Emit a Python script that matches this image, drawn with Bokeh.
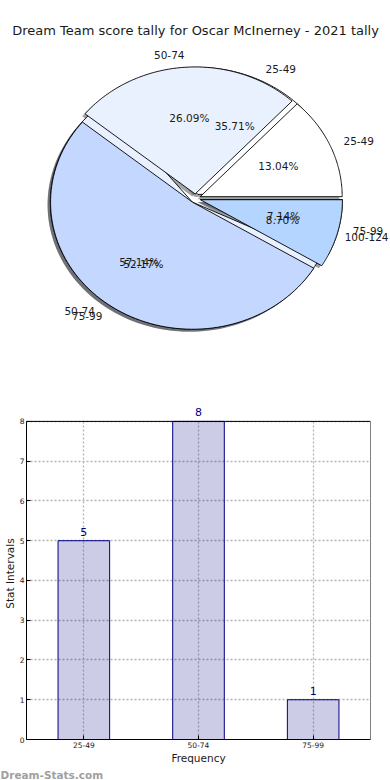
import numpy as np
from bokeh.plotting import figure
from bokeh.models import ColumnDataSource, Range1d, FactorRange, Title
from bokeh.layouts import column
from bokeh.embed import file_html
from bokeh.resources import INLINE
from bokeh.core.properties import value

# ---------------- data ----------------
title_text = "Dream Team score tally for Oscar McInerney - 2021 tally"
pie1_labels = ["25-49", "50-74", "75-99"]
pie1_counts = [5, 8, 1]
pie2_labels = ["25-49", "50-74", "75-99", "100-124"]
pie2_counts = [3, 6, 12, 2]
slice_colors = ["#ffffff", "#eaf1fe", "#c4d8ff", "#b3d5ff"]

bar_categories = ["25-49", "50-74", "75-99"]
bar_values = [5, 8, 1]
y_ticks = [0, 1, 2, 3, 4, 5, 6, 7, 8]
y_max = 8

FONT = "DejaVu Sans"
LABEL_SIZE = 10.5

# ---------------- pie figure ----------------
W1, H1 = 390, 340
PX = 142.0                       # pixels per radius unit (both axes)
ASPECT = 127.0 / 142.0           # pie is drawn slightly squashed vertically
CX, CY = 195.0, 198.0            # canvas position of pie centre
p1 = figure(width=W1, height=H1, output_backend="svg", toolbar_location=None,
            x_range=Range1d(-CX / PX, (W1 - CX) / PX),
            y_range=Range1d(-(H1 - CY) / PX, CY / PX),
            x_axis_type=None, y_axis_type=None, min_border=0)
p1.frame_align = False
p1.grid.visible = False
p1.outline_line_color = None

EXPLODE = 0.036
SHADOW = 0.02


def shade(hexcol):
    h = hexcol.lstrip("#")
    r, g, b = (int(h[i:i + 2], 16) for i in (0, 2, 4))
    return "#%02x%02x%02x" % (int(r * 0.3), int(g * 0.3), int(b * 0.3))


def text_width(s, size):
    em = {"-": 0.361, "%": 0.950, ".": 0.318}
    return sum(em.get(ch, 0.636) for ch in s) * size


def pie_geometry(counts, labels):
    total = float(sum(counts))
    cum = np.concatenate([[0.0], np.cumsum(counts)]) / total * 360.0
    out = dict(xs=[], ys=[], sx=[], sy=[], color=[], shadow=[],
               lx=[], ly=[], lab=[], right=[], px=[], py=[], pct=[])
    for i, c in enumerate(counts):
        t1, t2 = cum[i], cum[i + 1]
        mid = np.radians((t1 + t2) / 2.0)
        dx, dy = EXPLODE * np.cos(mid), EXPLODE * np.sin(mid)
        ts = np.radians(np.linspace(t1, t2, 90))
        xs = np.concatenate([[dx], dx + np.cos(ts), [dx]])
        ys = np.concatenate([[dy], dy + np.sin(ts), [dy]])
        out["xs"].append(list(xs))
        out["ys"].append(list(ys * ASPECT))
        out["sx"].append(list(xs - SHADOW))
        out["sy"].append(list((ys - SHADOW) * ASPECT))
        out["color"].append(slice_colors[i])
        out["shadow"].append(shade(slice_colors[i]))
        out["lx"].append(dx + 1.1 * np.cos(mid))
        out["ly"].append((dy + 1.1 * np.sin(mid)) * ASPECT)
        out["lab"].append(labels[i])
        out["right"].append(np.cos(mid) < 0)
        out["px"].append(dx + 0.6 * np.cos(mid))
        out["py"].append((dy + 0.6 * np.sin(mid)) * ASPECT)
        out["pct"].append("%.2f%%" % (100.0 * c / total))
    return out


g1 = pie_geometry(pie1_counts, pie1_labels)
g2 = pie_geometry(pie2_counts, pie2_labels)

for g in (g1, g2):
    p1.patches(xs=g["sx"], ys=g["sy"], fill_color=g["shadow"], fill_alpha=0.5,
               line_color=None)
for g in (g1, g2):
    p1.patches(xs=g["xs"], ys=g["ys"], fill_color=g["color"], line_color="black",
               line_width=0.9)

for g in (g1, g2):
    for i in range(len(g["lab"])):
        align = "right" if g["right"][i] else "left"
        # keep left-aligned labels inside the canvas (nudge if they would overflow)
        shift = 0.0
        if align == "left":
            end_px = CX + g["lx"][i] * PX + text_width(g["lab"][i], LABEL_SIZE)
            shift = min(0.0, (W1 - 2) - end_px)
        p1.text(x=[g["lx"][i]], y=[g["ly"][i]], text=[g["lab"][i]],
                text_align=align, text_baseline="middle", x_offset=shift,
                text_font=value(FONT), text_font_size="%.1fpx" % LABEL_SIZE,
                text_color="#1a1a1a")
    p1.text(x=g["px"], y=g["py"], text=g["pct"], text_align="center",
            text_baseline="middle", text_font=value(FONT),
            text_font_size="%.1fpx" % LABEL_SIZE, text_color="#1a1a1a")

# title as centred text at the top of the pie canvas
p1.text(x=[0.0], y=[(CY - 30) / PX], text=[title_text], text_align="center",
        text_baseline="middle", text_font=value(FONT), text_font_size="13px",
        text_color="#1a1a1a")

# ---------------- bar figure ----------------
W2, H2 = 390, 440
Y_TOP = y_max + 0.35
p2 = figure(width=W2, height=H2, output_backend="svg", toolbar_location=None,
            x_range=FactorRange(*bar_categories), y_range=Range1d(0, Y_TOP),
            min_border_top=67, min_border_right=20, min_border_bottom=0,
            min_border_left=0)
p2.frame_align = False
p2.outline_line_color = None
src = ColumnDataSource(dict(cat=bar_categories, val=bar_values,
                            txt=[str(v) for v in bar_values]))

for grid in (p2.xgrid, p2.ygrid):
    grid.grid_line_color = "#b5b5b5"
    grid.grid_line_dash = "2 2"
    grid.grid_line_width = 1.3
p2.xgrid.cross_bounds = (0, y_max)

p2.vbar(x="cat", top="val", width=0.45, source=src, fill_color="navy",
        fill_alpha=0.2, line_color="navy", line_width=1)
# plot box
p2.quad(left=[0], right=[len(bar_categories)], bottom=[0], top=[y_max],
        fill_color=None, line_color="black", line_width=1)
p2.text(x="cat", y="val", text="txt", source=src, text_align="center",
        text_baseline="bottom", y_offset=-5, text_color="navy",
        text_font=value(FONT), text_font_size="11px")

p2.yaxis.ticker = y_ticks
p2.yaxis.bounds = (0, y_max)
for ax in (p2.xaxis, p2.yaxis):
    ax.major_tick_in = 4
    ax.major_tick_out = 0
    ax.minor_tick_line_color = None
    ax.axis_line_color = "black"
    ax.major_label_text_font = FONT
    ax.major_label_text_font_size = "7.5px"
    ax.major_label_text_color = "#1a1a1a"
    ax.major_label_standoff = 2
    ax.axis_label_text_font = FONT
    ax.axis_label_text_font_size = "10.5px"
    ax.axis_label_text_font_style = "normal"
    ax.axis_label_text_color = "#1a1a1a"
    ax.axis_label_standoff = 1
p2.xaxis.axis_label = "Frequency"
p2.yaxis.axis_label = "Stat Intervals"

p2.add_layout(Title(text="Dream-Stats.com", align="left", offset=-26, standoff=0,
                    text_font=FONT, text_font_size="10.5px",
                    text_font_style="bold", text_color="#a0a0a0"), "below")

layout = column(p1, p2)
open("out.html", "w").write(file_html(layout, INLINE))
